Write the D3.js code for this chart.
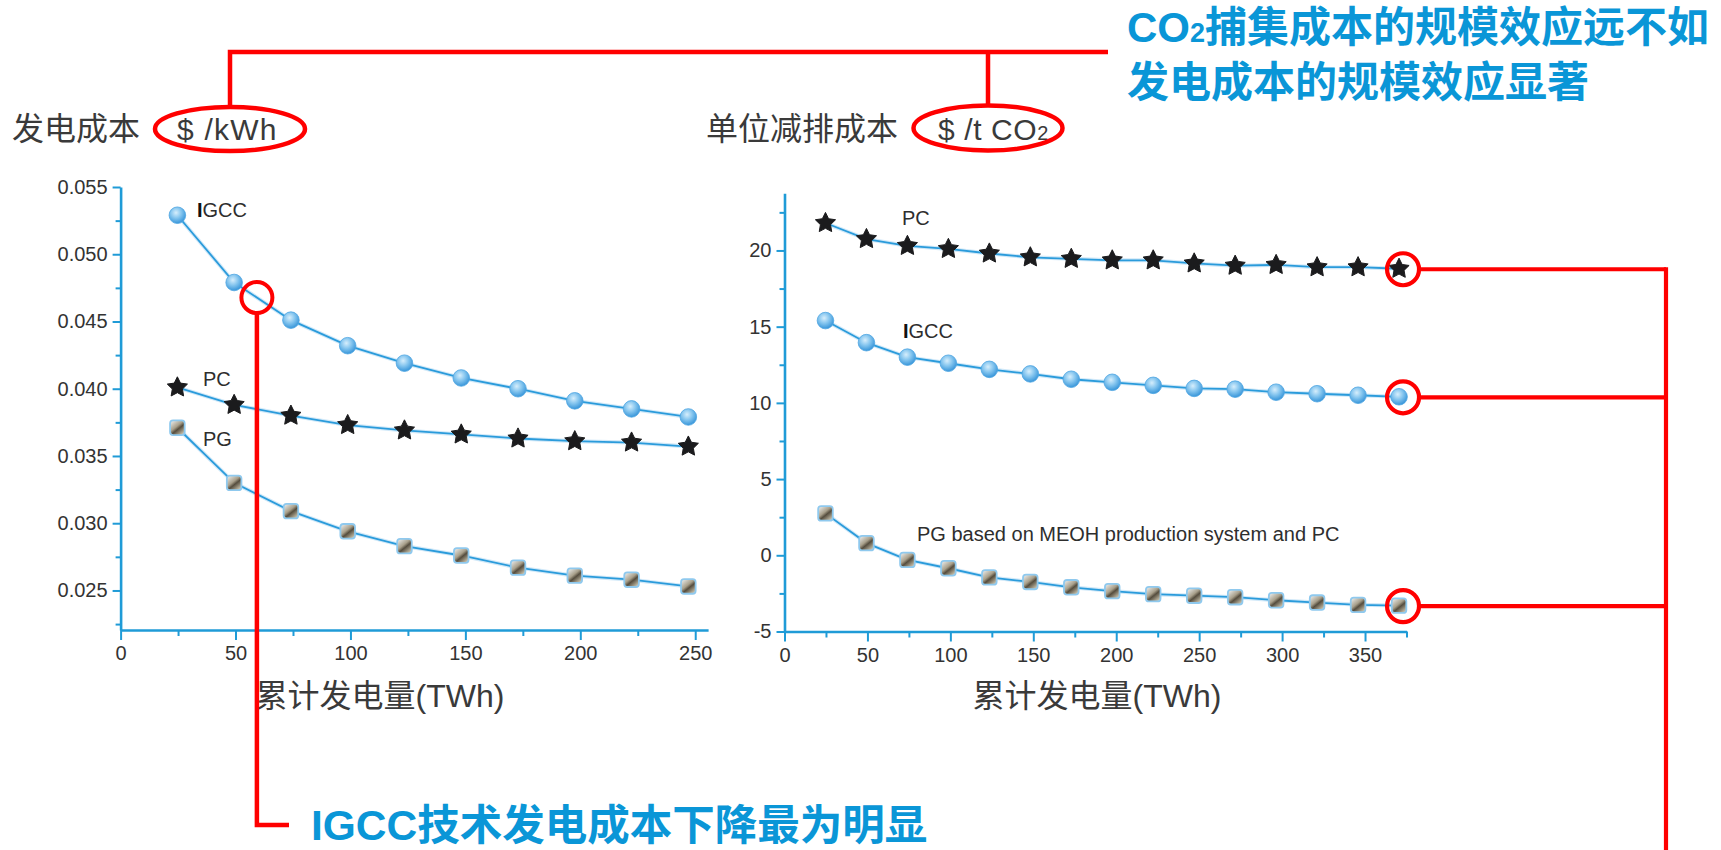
<!DOCTYPE html>
<html><head><meta charset="utf-8">
<script src="https://cdn.jsdelivr.net/npm/d3@7"></script>
<style>
html,body{margin:0;padding:0;background:#fff;}
svg{display:block;}
text{font-family:"Liberation Sans", Arial, "Noto Sans CJK SC", sans-serif;}
</style></head><body>
<svg id="c" width="1721" height="850"></svg>
<script>
// ---------- data ----------
const leftX = [24.7, 49.4, 74.1, 98.8, 123.5, 148.2, 172.9, 197.6, 222.3, 247.0];
const leftIGCC = [0.0529, 0.0479, 0.0451, 0.0432, 0.0419, 0.0408, 0.0400, 0.0391, 0.0385, 0.0379];
const leftPC   = [0.0401, 0.0388, 0.0380, 0.0373, 0.0369, 0.0366, 0.0363, 0.0361, 0.0360, 0.0357];
const leftPG   = [0.0371, 0.0330, 0.0309, 0.0294, 0.0283, 0.0276, 0.0267, 0.0261, 0.0258, 0.0253];

const rightX = [24.7, 49.4, 74.1, 98.8, 123.5, 148.2, 172.9, 197.6, 222.3, 247.0, 271.7, 296.4, 321.1, 345.8, 370.5];
const rightPC   = [21.8, 20.75, 20.3, 20.1, 19.8, 19.55, 19.45, 19.35, 19.35, 19.15, 19.0, 19.05, 18.9, 18.9, 18.8];
const rightIGCC = [15.4, 13.95, 13.0, 12.6, 12.2, 11.9, 11.55, 11.35, 11.15, 10.95, 10.9, 10.7, 10.6, 10.5, 10.4];
const rightPG   = [2.75, 0.8, -0.3, -0.85, -1.45, -1.75, -2.1, -2.35, -2.55, -2.65, -2.75, -2.95, -3.1, -3.25, -3.3];

const leftXTicks = [0, 50, 100, 150, 200, 250];
const leftXMinor = [25, 75, 125, 175, 225];
const leftYTicks = [0.025, 0.030, 0.035, 0.040, 0.045, 0.050, 0.055];
const leftYTickLabels = ["0.025", "0.030", "0.035", "0.040", "0.045", "0.050", "0.055"];
const leftYMinor = [0.0225, 0.0275, 0.0325, 0.0375, 0.0425, 0.0475, 0.0525];

const rightXTicks = [0, 50, 100, 150, 200, 250, 300, 350];
const rightXMinor = [25, 75, 125, 175, 225, 275, 325, 375];
const rightYTicks = [-5, 0, 5, 10, 15, 20];
const rightYTickLabels = ["-5", "0", "5", "10", "15", "20"];
const rightYMinor = [-2.5, 2.5, 7.5, 12.5, 17.5, 22.5];

const xTitle = "累计发电量(TWh)";
const leftHeader = "发电成本", leftUnit = "$ /kWh";
const rightHeader = "单位减排成本";
const topNote1 = "捕集成本的规模效应远不如", topNote2 = "发电成本的规模效应显著";
const bottomNote = "技术发电成本下降最为明显";

// ---------- setup ----------
const svg = d3.select("#c");
const defs = svg.append("defs");
const AX = "#1f9bd7", TXT = "#3a3a3a", RED = "#ff0000", BLUE = "#0a96d7";

const rg = defs.append("radialGradient").attr("id","gIGCC").attr("cx","0.42").attr("cy","0.35").attr("r","0.7");
rg.append("stop").attr("offset","0%").attr("stop-color","#d6eefc");
rg.append("stop").attr("offset","45%").attr("stop-color","#86c6ef");
rg.append("stop").attr("offset","100%").attr("stop-color","#2c8ed6");
const lg = defs.append("linearGradient").attr("id","gPG").attr("x1","0.1").attr("y1","0").attr("x2","0.9").attr("y2","1");
lg.append("stop").attr("offset","0%").attr("stop-color","#eceeee");
lg.append("stop").attr("offset","42%").attr("stop-color","#a89f8a");
lg.append("stop").attr("offset","58%").attr("stop-color","#554d3e");
lg.append("stop").attr("offset","100%").attr("stop-color","#ddd6bf");

function starPath(R, r) {
  const pts = [];
  for (let i = 0; i < 10; i++) {
    const a = -Math.PI / 2 + i * Math.PI / 5;
    const rad = i % 2 === 0 ? R : r;
    pts.push([rad * Math.cos(a), rad * Math.sin(a)]);
  }
  return "M" + pts.map(p => p[0].toFixed(2) + "," + p[1].toFixed(2)).join("L") + "Z";
}

function drawPanel(o) {
  const g = svg.append("g");
  g.append("g").attr("transform", `translate(0,${o.y.range()[0]})`)
    .call(d3.axisBottom(o.x).tickValues(o.xMinor).tickSize(6).tickSizeOuter(0).tickFormat(""))
    .call(s => s.select(".domain").remove())
    .call(s => s.selectAll("line").attr("stroke", AX).attr("stroke-width", 2));
  g.append("g").attr("transform", `translate(${o.x.range()[0]},0)`)
    .call(d3.axisLeft(o.y).tickValues(o.yMinor).tickSize(5).tickSizeOuter(0).tickFormat(""))
    .call(s => s.select(".domain").remove())
    .call(s => s.selectAll("line").attr("stroke", AX).attr("stroke-width", 2));
  const xa = g.append("g").attr("transform", `translate(0,${o.y.range()[0]})`)
    .call(d3.axisBottom(o.x).tickValues(o.xTicks).tickSize(10).tickPadding(6).tickSizeOuter(0).tickFormat(d3.format("d")));
  const ya = g.append("g").attr("transform", `translate(${o.x.range()[0]},0)`)
    .call(d3.axisLeft(o.y).tickValues(o.yTicks).tickSize(8).tickPadding(5).tickSizeOuter(0)
      .tickFormat((d, i) => o.yLabels[i]));
  [xa, ya].forEach(a => {
    a.select(".domain").attr("stroke", AX).attr("stroke-width", 2.6);
    a.selectAll(".tick line").attr("stroke", AX).attr("stroke-width", 2);
    a.selectAll(".tick text").attr("fill", "#333").attr("font-size", 20)
      .attr("font-family", "'Liberation Sans', Arial, sans-serif");
  });
  g.append("text").attr("x", o.titleX).attr("y", 707).attr("text-anchor", "middle")
    .attr("font-size", 32).attr("fill", TXT).text(xTitle);

  const line = d3.line().x(d => o.x(d[0])).y(d => o.y(d[1]));
  o.series.forEach(s => {
    const pts = o.xs.map((xv, i) => [xv, s.v[i]]);
    g.append("path").attr("d", line(pts)).attr("fill", "none")
      .attr("stroke", "#a9d6f2").attr("stroke-width", 4).attr("stroke-opacity", 0.55);
    g.append("path").attr("d", line(pts)).attr("fill", "none")
      .attr("stroke", "#2a9bdb").attr("stroke-width", 1.8);
    const m = g.append("g").selectAll("g").data(pts).join("g")
      .attr("transform", d => `translate(${o.x(d[0])},${o.y(d[1])})`);
    if (s.type === "circle") {
      m.append("circle").attr("r", 8.3).attr("fill", "url(#gIGCC)").attr("stroke", "#4fa6e2").attr("stroke-width", 0.8);
    } else if (s.type === "star") {
      m.append("path").attr("d", starPath(10.6, 5.3)).attr("fill", "#1b1b1d")
        .attr("stroke", "#1b1b1d").attr("stroke-width", 1).attr("stroke-linejoin", "round");
    } else {
      m.append("rect").attr("x", -7.3).attr("y", -7.3).attr("width", 14.6).attr("height", 14.6).attr("rx", 3)
        .attr("fill", "url(#gPG)").attr("stroke", "#8fc9ee").attr("stroke-width", 1.8);
    }
  });
  return g;
}

// ---------- left panel ----------
const xL = d3.scaleLinear().domain([0, 255.6]).range([120.6, 708.1]);
const yL = d3.scaleLinear().domain([0.02206, 0.055]).range([630, 187]);
drawPanel({
  x: xL, y: yL, xs: leftX, xTicks: leftXTicks, xMinor: leftXMinor,
  yTicks: leftYTicks, yLabels: leftYTickLabels, yMinor: leftYMinor, titleX: 380,
  series: [
    {v: leftIGCC, type: "circle"},
    {v: leftPC, type: "star"},
    {v: leftPG, type: "square"}
  ]
});

// ---------- right panel ----------
const xR = d3.scaleLinear().domain([0, 375]).range([784.5, 1406.5]);
const yR = d3.scaleLinear().domain([-5, 23.75]).range([631.5, 193.3]);
drawPanel({
  x: xR, y: yR, xs: rightX, xTicks: rightXTicks, xMinor: rightXMinor,
  yTicks: rightYTicks, yLabels: rightYTickLabels, yMinor: rightYMinor, titleX: 1097,
  series: [
    {v: rightPC, type: "star"},
    {v: rightIGCC, type: "circle"},
    {v: rightPG, type: "square"}
  ]
});

// ---------- series labels ----------
function seriesLabel(x, y, txt, boldFirst) {
  const t = svg.append("text").attr("x", x).attr("y", y).attr("font-size", 20).attr("fill", "#2e2e2e");
  if (boldFirst) {
    t.append("tspan").attr("font-weight", "bold").attr("fill", "#111").text(txt[0]);
    t.append("tspan").text(txt.slice(1));
  } else t.text(txt);
}
seriesLabel(197, 217, "IGCC", true);
seriesLabel(203, 386, "PC");
seriesLabel(203, 446, "PG");
seriesLabel(902, 225, "PC");
seriesLabel(903, 338, "IGCC", true);
seriesLabel(917, 541, "PG based on MEOH production system and PC");

// ---------- headers ----------
svg.append("text").attr("x", 12).attr("y", 140).attr("font-size", 32).attr("fill", TXT).text(leftHeader);
svg.append("text").attr("x", 177).attr("y", 140).attr("font-size", 30).attr("letter-spacing", 1.2)
  .attr("fill", TXT).text(leftUnit);
svg.append("text").attr("x", 706).attr("y", 140).attr("font-size", 32).attr("fill", TXT).text(rightHeader);
const ru = svg.append("text").attr("x", 938).attr("y", 140).attr("font-size", 30).attr("letter-spacing", 0.6).attr("fill", TXT);
ru.append("tspan").text("$ /t CO");
ru.append("tspan").attr("font-size", 20).text("2");

// ---------- red annotations ----------
const red = svg.append("g").attr("fill", "none").attr("stroke", RED).attr("stroke-width", 4.5);
red.append("ellipse").attr("cx", 230).attr("cy", 129).attr("rx", 75).attr("ry", 22);
red.append("ellipse").attr("cx", 988).attr("cy", 128).attr("rx", 74.5).attr("ry", 22.5);
red.append("path").attr("d", "M230,107V52H1108M988,52V105.5");

const cxs = xL(59.3), cys = yL(d3.interpolateNumber(leftIGCC[1], leftIGCC[2])((59.3 - leftX[1]) / (leftX[2] - leftX[1])));
red.append("circle").attr("cx", cxs).attr("cy", cys).attr("r", 15.5).attr("stroke-width", 4);
red.append("path").attr("d", `M${cxs},${cys + 15.5}V825H289`).attr("stroke-width", 4.5);

const lastI = rightX.length - 1;
const rc = [rightPC[lastI], rightIGCC[lastI], rightPG[lastI]].map(v => [xR(rightX[lastI]) + 4, yR(v) + 0.5]);
rc.forEach(p => {
  red.append("circle").attr("cx", p[0]).attr("cy", p[1]).attr("r", 16).attr("stroke-width", 4.2);
  red.append("path").attr("d", `M${p[0] + 16},${p[1]}H1666`).attr("stroke-width", 4.2);
});
red.append("path").attr("d", `M1666,${rc[0][1] - 2}V852`).attr("stroke-width", 4.2);

// ---------- blue notes ----------
const n1 = svg.append("text").attr("x", 1127).attr("y", 42).attr("font-size", 42).attr("font-weight", "bold").attr("fill", BLUE);
n1.append("tspan").text("CO");
n1.append("tspan").attr("font-size", 27).text("2");
n1.append("tspan").text(topNote1);
svg.append("text").attr("x", 1127).attr("y", 97).attr("font-size", 42).attr("font-weight", "bold").attr("fill", BLUE).text(topNote2);
const n3 = svg.append("text").attr("x", 311).attr("y", 840).attr("font-size", 42.5).attr("font-weight", "bold").attr("fill", BLUE);
n3.append("tspan").text("IGCC");
n3.append("tspan").text(bottomNote);
</script>
</body></html>
